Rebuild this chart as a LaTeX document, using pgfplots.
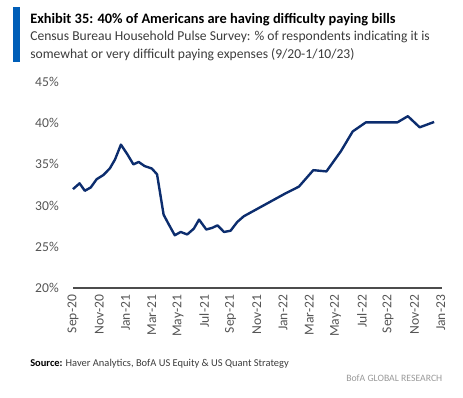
\documentclass[border=0pt]{standalone}
\usepackage{pgfplots}
\pgfplotsset{compat=1.18}
\usepackage{fontspec}
\setmainfont{Carlito}
\definecolor{bofanavy}{RGB}{12,45,110}
\definecolor{bofablue}{RGB}{0,94,184}
\definecolor{ticktext}{RGB}{85,85,85}
\definecolor{subtext}{RGB}{60,60,60}
\begin{document}
\begin{tikzpicture}
\path[use as bounding box] (0pt,0pt) rectangle (347.25pt,297.75pt);
\fill[bofablue] (9.75pt,292.5pt) rectangle (15pt,251.25pt);
\node[anchor=base west,inner sep=0pt,font=\fontsize{10.8pt}{12pt}\selectfont\bfseries] at (22.5pt,279.75pt) {Exhibit 35: 40\% of Americans are having difficulty paying bills};
\node[anchor=base west,inner sep=0pt,text=subtext,font=\fontsize{10.2pt}{12pt}\selectfont] at (22.5pt,267pt) {Census Bureau Household Pulse Survey: \% of respondents indicating it is};
\node[anchor=base west,inner sep=0pt,text=subtext,font=\fontsize{10.2pt}{12pt}\selectfont] at (22.5pt,253.9pt) {somewhat or very difficult paying expenses (9/20-1/10/23)};
\node[anchor=base west,inner sep=0pt,text=subtext,font=\fontsize{7.85pt}{9pt}\selectfont] at (22.5pt,23.25pt) {\textbf{\textcolor{black}{Source:}} Haver Analytics, BofA US Equity \& US Quant Strategy};
\node[anchor=base east,inner sep=0pt,text=black!40,font=\fontsize{7.3pt}{9pt}\selectfont] at (331.9pt,12pt) {BofA GLOBAL RESEARCH};
\begin{axis}[
  at={(54.75pt,81.75pt)}, anchor=south west,
  scale only axis, width=276.75pt, height=154.5pt,
  xmin=0, xmax=28.1, ymin=20, ymax=45,
  axis x line*=bottom, axis y line*=left,
  x axis line style={draw=black!70, line width=0.9pt},
  y axis line style={draw=none},
  tick style={draw=none},
  clip=false,
  ytick={20,25,30,35,40,45},
  yticklabels={20\%,25\%,30\%,35\%,40\%,45\%},
  xtick={0,2,4,6,8,10,12,14,16,18,20,22,24,26,28},
  xticklabels={Sep-20,Nov-20,Jan-21,Mar-21,May-21,Jul-21,Sep-21,Nov-21,Jan-22,Mar-22,May-22,Jul-22,Sep-22,Nov-22,Jan-23},
  ticklabel style={text=ticktext, font=\fontsize{10.2pt}{11pt}\selectfont},
  yticklabel style={anchor=east, inner sep=0pt, xshift=-10.5pt},
  xticklabel style={yshift=-5pt, rotate=90, anchor=east, inner sep=0pt},
]
\addplot[bofanavy, line width=1.8pt, line join=round] coordinates {
(0,32.0) (0.5,32.7) (0.9,31.8) (1.35,32.2) (1.8,33.2) (2.3,33.7) (2.8,34.5)
(3.2,35.6) (3.65,37.4) (4.15,36.2) (4.6,35.0) (5.0,35.3) (5.45,34.8) (6.0,34.5)
(6.4,33.8) (6.9,28.9) (7.3,27.7) (7.75,26.4) (8.2,26.8) (8.7,26.5) (9.2,27.2)
(9.6,28.3) (10.15,27.1) (10.6,27.3) (11.0,27.6) (11.5,26.8) (12.0,26.95)
(12.5,28.0) (13.0,28.7) (16.2,31.5) (17.2,32.3) (18.3,34.3) (19.3,34.15)
(20.4,36.6) (21.3,39.0) (22.3,40.1) (24.7,40.1) (25.5,40.85) (26.4,39.5) (27.5,40.15)
};
\end{axis}
\end{tikzpicture}
\end{document}
